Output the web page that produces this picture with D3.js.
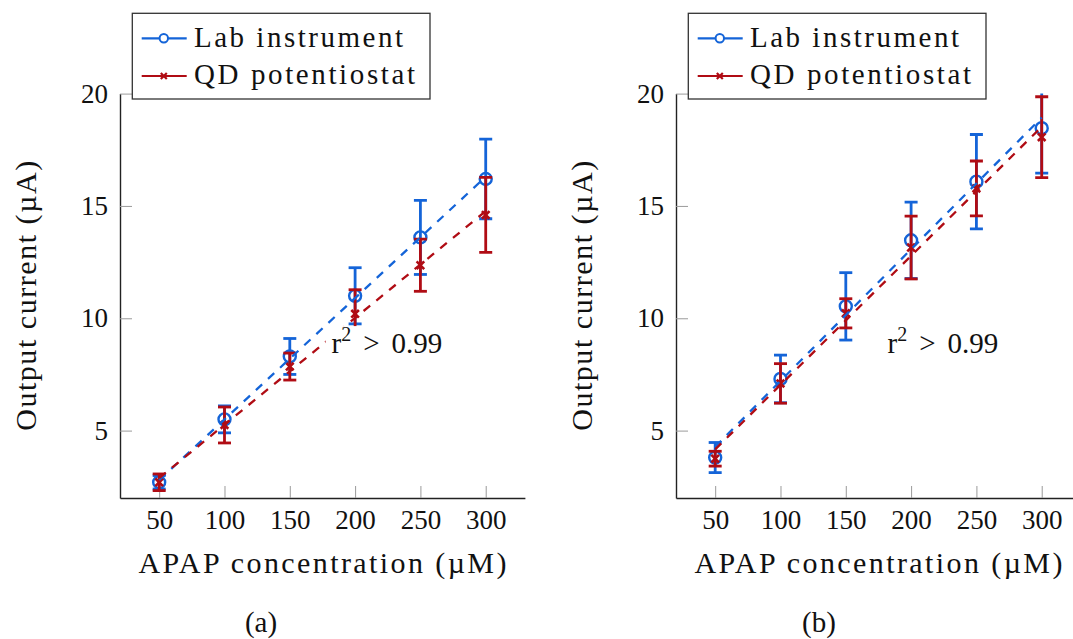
<!DOCTYPE html>
<html>
<head>
<meta charset="utf-8">
<script src="https://cdn.jsdelivr.net/npm/d3@7"></script>
<style>
  html, body { margin: 0; padding: 0; background: #fff; }
  svg { display: block; }
  text { font-family: "Liberation Serif", "DejaVu Serif", serif; fill: #111; }
</style>
</head>
<body>
<svg id="fig" width="1073" height="639"></svg>
<script>
// APAP concentrations (µM) on the x axis
const concentrations = [50, 100, 150, 200, 250, 300];

// Panel (a): output current (µA) and error bar half-widths
const labA    = [2.7, 5.5, 8.3, 11.0, 13.6, 16.2];
const labAErr = [0.3, 0.6, 0.8, 1.25, 1.65, 1.77];
const qdA     = [2.7, 5.25, 7.85, 10.2, 12.36, 14.6];
const qdAErr  = [0.37, 0.8, 0.6, 1.07, 1.16, 1.67];

// Panel (b)
const labB    = [3.8, 7.3, 10.53, 13.47, 16.08, 18.46];
const labBErr = [0.67, 1.06, 1.5, 1.7, 2.1, 2.0];
const qdB     = [3.75, 7.1, 10.22, 13.15, 15.78, 18.06];
const qdBErr  = [0.33, 0.88, 0.65, 1.4, 1.22, 1.8];

const xTicks = [50, 100, 150, 200, 250, 300];
const yTicks = [5, 10, 15, 20];
const seriesNames = ["Lab instrument", "QD potentiostat"];
const panelLabels = ["(a)", "(b)"];

const BLUE = "#1464d8";
const RED = "#b00c14";
const FONT = '"Liberation Serif", "DejaVu Serif", serif';

const svg = d3.select("#fig");

const panels = [
  { left: 120, caption: 261, lab: labA, labErr: labAErr, qd: qdA, qdErr: qdAErr, label: panelLabels[0] },
  { left: 676, caption: 819, lab: labB, labErr: labBErr, qd: qdB, qdErr: qdBErr, label: panelLabels[1] }
];

const plotW = 404.9, plotTop = 93.6, plotBottom = 498;

function linFit(xs, ys) {
  const mx = d3.mean(xs), my = d3.mean(ys);
  let sxy = 0, sxx = 0;
  xs.forEach((v, i) => { sxy += (v - mx) * (ys[i] - my); sxx += (v - mx) * (v - mx); });
  const b = sxy / sxx;
  return v => my + b * (v - mx);
}

panels.forEach((p, pi) => {
  const x = d3.scaleLinear().domain([20, 330]).range([p.left, p.left + plotW]);
  const y = d3.scaleLinear().domain([2, 20]).range([plotBottom, plotTop]);
  const g = svg.append("g").attr("font-family", FONT);

  const clipId = "clip" + pi;
  g.append("clipPath").attr("id", clipId)
    .append("rect").attr("x", p.left).attr("y", plotTop).attr("width", plotW).attr("height", plotBottom - plotTop);

  // axes with inward ticks
  const yAxis = g.append("g").attr("transform", `translate(${p.left},0)`)
    .call(d3.axisLeft(y).tickValues(yTicks).tickSizeInner(-12).tickSizeOuter(0).tickPadding(12));
  const xAxis = g.append("g").attr("transform", `translate(0,${plotBottom})`)
    .call(d3.axisBottom(x).tickValues(xTicks).tickSizeInner(-12).tickSizeOuter(0).tickPadding(12));
  [yAxis, xAxis].forEach(a => {
    a.attr("font-family", FONT);
    a.select(".domain").attr("stroke", "#222").attr("stroke-width", 1.4);
    a.selectAll(".tick line").attr("stroke", "#9a9a9a").attr("stroke-width", 1);
    a.selectAll(".tick text").attr("font-size", 27).attr("fill", "#111");
  });

  // axis titles
  g.append("text")
    .attr("transform", `translate(${p.left - 95},${(plotTop + plotBottom) / 2}) rotate(-90)`)
    .attr("text-anchor", "middle").attr("dy", "0.35em")
    .attr("font-size", 30).attr("textLength", 270).attr("lengthAdjust", "spacing")
    .text("Output current (µA)");
  g.append("text")
    .attr("x", p.left + plotW / 2).attr("y", 573)
    .attr("text-anchor", "middle")
    .attr("font-size", 30).attr("textLength", 368).attr("lengthAdjust", "spacing")
    .text("APAP concentration (µM)");

  // caption
  g.append("text").attr("x", p.caption).attr("y", 632).attr("text-anchor", "middle")
    .attr("font-size", 29).text(p.label);

  const data = g.append("g").attr("clip-path", `url(#${clipId})`);

  const series = [
    { vals: p.lab, err: p.labErr, color: BLUE, marker: "circle" },
    { vals: p.qd, err: p.qdErr, color: RED, marker: "cross" }
  ];

  // error bars and markers
  series.forEach(s => {
    const sg = data.append("g").attr("stroke", s.color).attr("fill", "none");
    concentrations.forEach((c, i) => {
      const cx = x(c), lo = y(s.vals[i] - s.err[i]), hi = y(s.vals[i] + s.err[i]);
      sg.append("line").attr("x1", cx).attr("x2", cx).attr("y1", lo).attr("y2", hi).attr("stroke-width", 2.8);
      [lo, hi].forEach(yy => sg.append("line").attr("x1", cx - 6.5).attr("x2", cx + 6.5)
        .attr("y1", yy).attr("y2", yy).attr("stroke-width", 2.8));
      const cy = y(s.vals[i]);
      if (s.marker === "circle") {
        sg.append("circle").attr("cx", cx).attr("cy", cy).attr("r", 6).attr("stroke-width", 2.4);
      } else {
        const d = 3.8;
        sg.append("path").attr("d", `M${cx - d},${cy - d}L${cx + d},${cy + d}M${cx - d},${cy + d}L${cx + d},${cy - d}`)
          .attr("stroke-width", 2.6);
      }
    });
  });

  // dashed linear fits
  series.forEach(s => {
    const f = linFit(concentrations, s.vals);
    const x0 = concentrations[0], x1 = concentrations[concentrations.length - 1];
    data.append("line")
      .attr("x1", x(x0)).attr("y1", y(f(x0))).attr("x2", x(x1)).attr("y2", y(f(x1)))
      .attr("stroke", s.color).attr("stroke-width", 2.3).attr("stroke-dasharray", "8.5,8");
  });

  // r² annotation with white backing
  const ann = g.append("g");
  const tx = x(182), ty = y(8.45);
  ann.append("rect").attr("x", tx - 6).attr("y", ty - 27).attr("width", 135).attr("height", 36).attr("fill", "#fff");
  const t = ann.append("text").attr("x", tx).attr("y", ty).attr("font-size", 29);
  t.append("tspan").text("r");
  t.append("tspan").attr("font-size", 20).attr("dy", -12).text("2");
  t.append("tspan").attr("dy", 12).attr("dx", 12).text(">");
  t.append("tspan").attr("dx", 12).text("0.99");

  // legend
  const lx = p.left + 12.3, ly = 13.3;
  const lg = g.append("g");
  lg.append("rect").attr("x", lx).attr("y", ly).attr("width", 297.7).attr("height", 85.7)
    .attr("fill", "#fff").attr("stroke", "#333").attr("stroke-width", 1.3);
  [{ name: seriesNames[0], color: BLUE, marker: "circle", cy: 38.3, base: 47 },
   { name: seriesNames[1], color: RED, marker: "cross", cy: 76, base: 84 }].forEach(e => {
    lg.append("line").attr("x1", lx + 9.4).attr("x2", lx + 54.4).attr("y1", e.cy).attr("y2", e.cy)
      .attr("stroke", e.color).attr("stroke-width", 2.2);
    const mx = lx + 31.5;
    if (e.marker === "circle") {
      lg.append("circle").attr("cx", mx).attr("cy", e.cy).attr("r", 4.2)
        .attr("fill", "#fff").attr("stroke", e.color).attr("stroke-width", 2);
    } else {
      const d = 3;
      lg.append("path").attr("d", `M${mx - d},${e.cy - d}L${mx + d},${e.cy + d}M${mx - d},${e.cy + d}L${mx + d},${e.cy - d}`)
        .attr("stroke", e.color).attr("stroke-width", 2.2);
    }
    lg.append("text").attr("x", lx + 61.7).attr("y", e.base).attr("font-size", 29)
      .attr("textLength", e.name === seriesNames[0] ? 209 : 221).attr("lengthAdjust", "spacing")
      .text(e.name);
  });
});
</script>
</body>
</html>
